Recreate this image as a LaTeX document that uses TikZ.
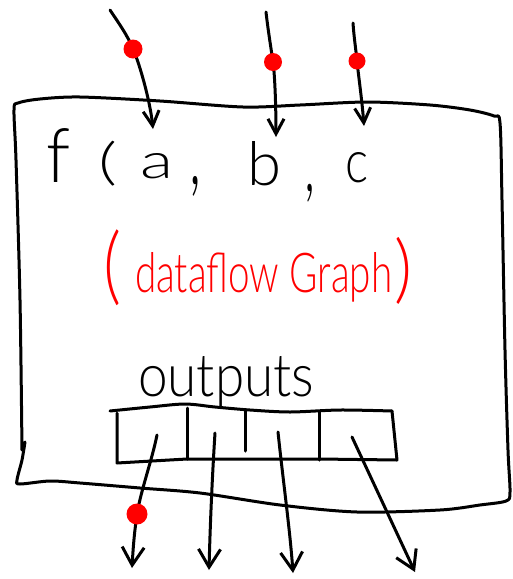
\documentclass[tikz,border=0pt]{standalone}
\usepackage{fontspec}
\setmainfont{Lato Light}
\usetikzlibrary{arrows.meta}
\begin{document}
\begin{tikzpicture}[x=1pt,y=-1pt,
  ink/.style={line width=3pt, line cap=round, line join=round},
  inarrow/.style={ink, -{Straight Barb[length=15pt,width=16pt]}},
  outarrow/.style={ink, -{Straight Barb[length=18pt,width=22pt]}},
  reddot/.style={circle, fill=red, inner sep=0pt, minimum size=19pt},
  glyph/.style={inner sep=0pt, anchor=center}]
\useasboundingbox (0,0) rectangle (512,579);

% outer frame
\draw[ink] plot[smooth, tension=0.5] coordinates {(22,450) (20,300) (16,160) (14,110) (18,103) (40,99) (80,97) (160,101) (243,107) (300,105) (367,102) (430,105) (470,110) (494,116) (500,123) (502,200) (505,350) (508,450) (510,492) (506,501) (480,505) (440,510) (357,512) (280,505) (200,493) (140,488) (80,483) (50,481) (20,484) (17,480) (22,460) (25,442)};

% output register
\draw[ink] plot[smooth, tension=0.5] coordinates {(110,411) (150,407) (185,404) (215,407) (250,410) (290,412) (340,410) (392,411)};
\draw[ink] (117,413) -- (117,463) -- (187,459) -- (319,459) -- (397,460) -- (392,411);
\draw[ink] (187,408) -- (187,459);
\draw[ink] (245,410) -- (245,451);
\draw[ink] (319,412) -- (319,460);

% texts
\node[glyph] (tf) at (59,155) {\resizebox{24pt}{54pt}{f}};
\node[glyph] (tp) at (108,164) {\resizebox*{19pt}{45pt}{(}};
\node[glyph] (ta) at (157,166) {\resizebox{33pt}{25pt}{a}};
\node[glyph] (tc1) at (195,186) {\resizebox*{12pt}{20pt}{,}};
\node[glyph] (tb) at (265,164) {\resizebox{34pt}{44pt}{b}};
\node[glyph] (tc2) at (310,193) {\resizebox*{11pt}{18pt}{,}};
\node[glyph] (tcc) at (357,168) {\resizebox{23pt}{30pt}{c}};

\node[glyph, text=red] (lp) at (113,268) {\resizebox*{18pt}{76pt}{(}};
\node[glyph, text=red] (rp) at (404,271) {\resizebox*{18pt}{67pt}{)}};
\node[inner sep=0pt, anchor=base west, text=red] (tdg) at (135,292) {\resizebox{257pt}{40pt}{dataflow Graph}};

\node[inner sep=0pt, anchor=base west] (tout) at (138,396) {\resizebox{176pt}{40pt}{outputs}};

% input arrows
\coordinate (ia0) at (110,10);  \coordinate (pa) at (133,49);  \coordinate (ia1) at (153,129);
\coordinate (ib0) at (266,12);  \coordinate (pb) at (273,62);  \coordinate (ib1) at (276,137);
\coordinate (ic0) at (353,23);  \coordinate (pc) at (357,61);  \coordinate (ic1) at (364,126);
\draw[inarrow] (ia0) .. controls (118,22) and (128,36) .. (pa) .. controls (139,62) and (150,100) .. (ia1);
\draw[inarrow] (ib0) .. controls (268,30) and (271,48) .. (pb) .. controls (275,76) and (276,110) .. (ib1);
\draw[inarrow] (ic0) .. controls (354,38) and (356,50) .. (pc) .. controls (358,72) and (362,100) .. (ic1);
\node[reddot] (da) at (pa) {};
\node[reddot, minimum size=18pt] (db) at (pb) {};
\node[reddot, minimum size=17pt] (dc) at (pc) {};

% output arrows
\coordinate (o1s) at (157,435); \coordinate (po) at (137,514); \coordinate (o1e) at (132,568);
\coordinate (o2s) at (215,433); \coordinate (o2e) at (209,570);
\coordinate (o3s) at (278,432); \coordinate (o3e) at (293,573);
\coordinate (o4s) at (352,437); \coordinate (o4e) at (415,572);
\draw[outarrow] (o1s) .. controls (152,460) and (141,490) .. (po) .. controls (134,535) and (133,550) .. (o1e);
\draw[outarrow] (o2s) .. controls (212,480) and (210,530) .. (o2e);
\draw[outarrow] (o3s) .. controls (283,480) and (290,530) .. (o3e);
\draw[outarrow] (o4s) .. controls (373,482) and (394,527) .. (o4e);
\node[reddot, minimum size=21pt] (do) at (po) {};
\end{tikzpicture}
\end{document}
